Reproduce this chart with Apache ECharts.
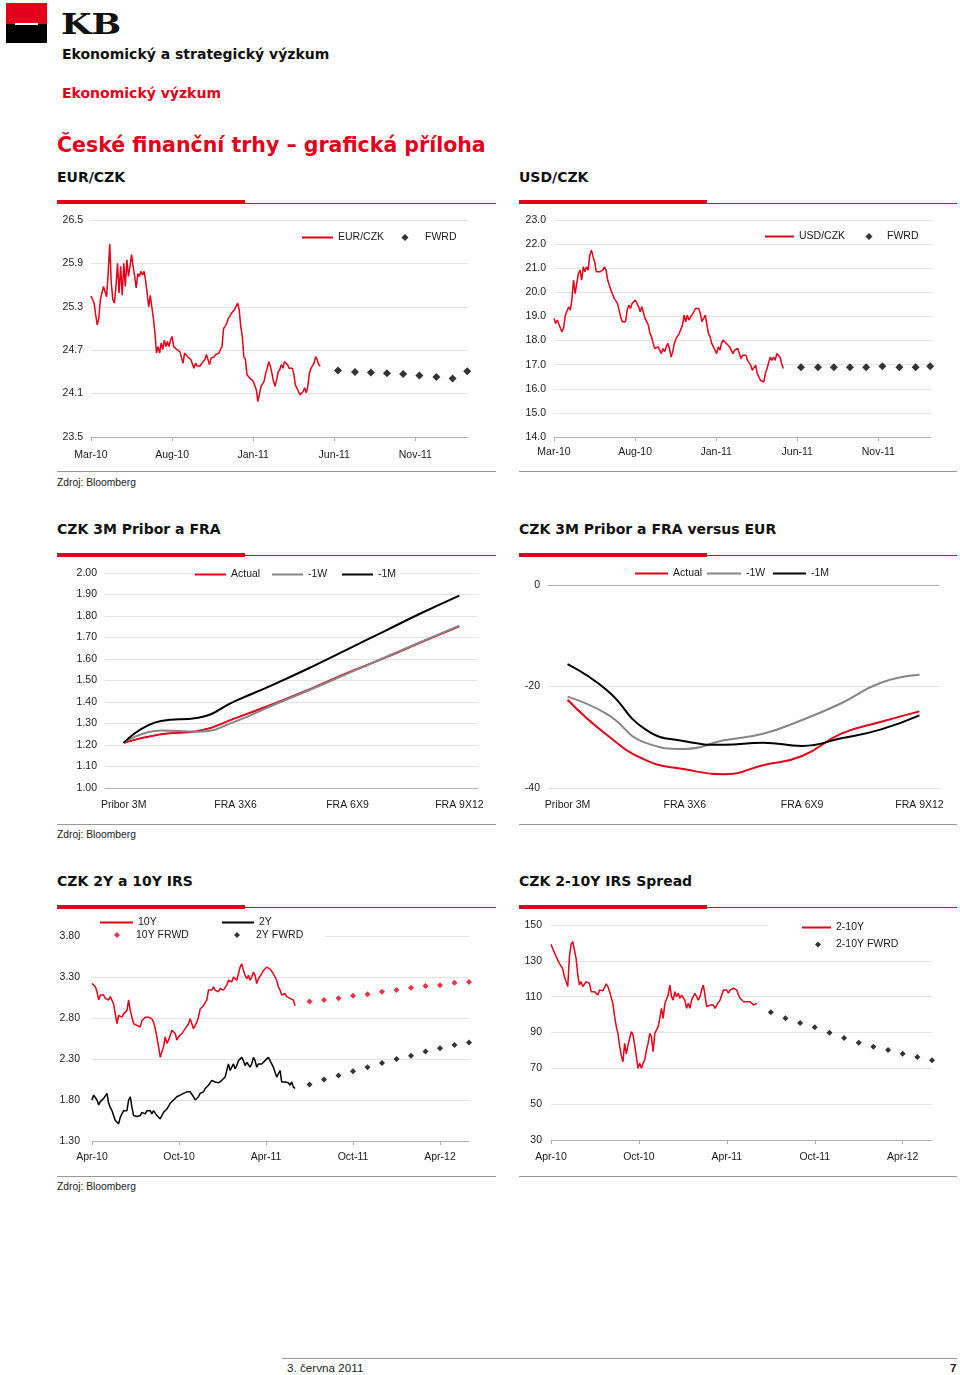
<!DOCTYPE html>
<html><head><meta charset="utf-8">
<script src="https://cdn.jsdelivr.net/npm/echarts@6/dist/echarts.min.js"></script>
<style>
html,body{margin:0;padding:0;background:#fff;}
#page{position:relative;width:960px;height:1375px;overflow:hidden;font-family:"Liberation Sans",Arial,sans-serif;}
.t{position:absolute;white-space:nowrap;line-height:1;}
.b{font-family:"DejaVu Sans",sans-serif;font-weight:bold;}
.r{position:absolute;}
#chart{position:absolute;left:0;top:0;width:960px;height:1375px;}
</style></head><body>
<div id="page">
  <div class="r" style="left:6px;top:3px;width:41px;height:21px;background:#e2001a"></div>
  <div class="r" style="left:6px;top:24px;width:41px;height:19px;background:#000"></div>
  <div class="r" style="left:15px;top:23px;width:23px;height:2px;background:#fff"></div>
  <div class="t" style="left:61px;top:10.5px;font-family:'DejaVu Serif',serif;font-weight:bold;font-size:27px;color:#111;transform:scaleX(1.3);transform-origin:left top;">KB</div>
  <div class="t b" style="left:62px;top:47.2px;font-size:14px;color:#111;">Ekonomický a strategický výzkum</div>
  <div class="t b" style="left:62px;top:85.5px;font-size:14px;color:#e2001a;">Ekonomický výzkum</div>
  <div class="t b" style="left:57px;top:134.7px;font-size:20.5px;color:#e2001a;">České finanční trhy – grafická příloha</div>

  <div class="t b" style="left:57px;top:170px;font-size:14px;color:#111;">EUR/CZK</div>
  <div class="t b" style="left:519px;top:170px;font-size:14px;color:#111;">USD/CZK</div>
  <div class="r" style="left:57px;top:200px;width:188px;height:4px;background:#e2001a"></div>
  <div class="r" style="left:245px;top:203px;width:251px;height:1px;background:#e2001a"></div>
  <div class="r" style="left:519px;top:200px;width:188px;height:4px;background:#e2001a"></div>
  <div class="r" style="left:707px;top:203px;width:250px;height:1px;background:#e2001a"></div>
  <div class="r" style="left:57px;top:471px;width:439px;height:1px;background:#999"></div>
  <div class="r" style="left:519px;top:471px;width:438px;height:1px;background:#999"></div>
  <div class="t" style="left:57px;top:477.5px;font-size:10.3px;color:#222;">Zdroj: Bloomberg</div>

  <div class="t b" style="left:57px;top:522px;font-size:14px;color:#111;">CZK 3M Pribor a FRA</div>
  <div class="t b" style="left:519px;top:522px;font-size:14px;color:#111;">CZK 3M Pribor a FRA versus EUR</div>
  <div class="r" style="left:57px;top:553px;width:188px;height:4px;background:#e2001a"></div>
  <div class="r" style="left:245px;top:555px;width:251px;height:1px;background:#e2001a"></div>
  <div class="r" style="left:519px;top:553px;width:188px;height:4px;background:#e2001a"></div>
  <div class="r" style="left:707px;top:555px;width:250px;height:1px;background:#e2001a"></div>
  <div class="r" style="left:57px;top:824px;width:439px;height:1px;background:#999"></div>
  <div class="r" style="left:519px;top:824px;width:438px;height:1px;background:#999"></div>
  <div class="t" style="left:57px;top:830px;font-size:10.3px;color:#222;">Zdroj: Bloomberg</div>

  <div class="t b" style="left:57px;top:874px;font-size:14px;color:#111;">CZK 2Y a 10Y IRS</div>
  <div class="t b" style="left:519px;top:874px;font-size:14px;color:#111;">CZK 2-10Y IRS Spread</div>
  <div class="r" style="left:57px;top:905px;width:188px;height:4px;background:#e2001a"></div>
  <div class="r" style="left:245px;top:907px;width:251px;height:1px;background:#e2001a"></div>
  <div class="r" style="left:519px;top:905px;width:188px;height:4px;background:#e2001a"></div>
  <div class="r" style="left:707px;top:907px;width:250px;height:1px;background:#e2001a"></div>
  <div class="r" style="left:57px;top:1176px;width:439px;height:1px;background:#999"></div>
  <div class="r" style="left:519px;top:1176px;width:438px;height:1px;background:#999"></div>
  <div class="t" style="left:57px;top:1181.5px;font-size:10.3px;color:#222;">Zdroj: Bloomberg</div>

  <div class="r" style="left:282px;top:1358px;width:675px;height:1px;background:#999"></div>
  <div class="t" style="left:287px;top:1362px;font-size:11.7px;color:#222;">3. června 2011</div>
  <div class="t" style="left:950px;top:1362px;font-size:11.7px;font-weight:bold;color:#222;">7</div>

  <div id="chart"></div>
</div>
<script>
// ---------- DATA ----------
// x positions are months counted from the first axis label (Mar-10 / Apr-10)
const eurczkTickMonths = [0, 5, 10, 15, 20];
const eurczkTickLabels = ['Mar-10', 'Aug-10', 'Jan-11', 'Jun-11', 'Nov-11'];
const eurczkYTicks = [23.5, 24.1, 24.7, 25.3, 25.9, 26.5];
const eurczkSpotFrom = 0, eurczkSpotTo = 14.14;
const eurczkSpot = [25.45, 25.40, 25.35, 25.19, 25.05, 25.14, 25.40, 25.42, 25.58, 25.56,
  25.44, 25.76, 26.17, 25.63, 25.40, 25.35, 25.58, 25.90, 25.49, 25.86, 25.46, 25.90, 25.58, 25.95,
  25.72, 25.86, 26.02, 25.86, 25.72, 25.56, 25.76, 25.72, 25.79, 25.74, 25.79, 25.67, 25.49, 25.30,
  25.46, 25.30, 25.14, 24.94, 24.66, 24.75, 24.66, 24.80, 24.71, 24.84, 24.75, 24.82, 24.75, 24.84,
  24.89, 24.75, 24.73, 24.71, 24.71, 24.68, 24.66, 24.52, 24.66, 24.64, 24.61, 24.59, 24.57, 24.57,
  24.45, 24.52, 24.48, 24.50, 24.48, 24.52, 24.50, 24.57, 24.64, 24.57, 24.50, 24.59, 24.57, 24.61,
  24.64, 24.66, 24.66, 24.71, 24.75, 25.00, 25.03, 25.07, 25.14, 25.17, 25.21, 25.23, 25.26, 25.28,
  25.35, 25.26, 25.03, 24.89, 24.61, 24.57, 24.36, 24.34, 24.31, 24.29, 24.27, 24.29, 24.15, 23.99,
  24.01, 24.20, 24.22, 24.27, 24.38, 24.45, 24.54, 24.48, 24.38, 24.27, 24.20, 24.29, 24.40, 24.43,
  24.50, 24.45, 24.54, 24.52, 24.50, 24.45, 24.43, 24.45, 24.38, 24.22, 24.20, 24.13, 24.08, 24.06,
  24.13, 24.18, 24.11, 24.20, 24.38, 24.45, 24.43, 24.52, 24.61, 24.57, 24.50, 24.48];
const eurczkFwdMonths = [15.23, 16.28, 17.26, 18.25, 19.25, 20.25, 21.3, 22.3, 23.2];
const eurczkFwd = [24.42, 24.40, 24.39, 24.38, 24.37, 24.35, 24.33, 24.31, 24.41];

const usdczkYTicks = [14, 15, 16, 17, 18, 19, 20, 21, 22, 23];
const usdczkSpotFrom = 0, usdczkSpotTo = 14.14;
const usdczkSpot = [18.92, 18.71, 18.85, 18.78, 18.50, 18.36, 18.57, 19.05, 18.98, 19.40, 19.26,
  19.68, 20.51, 19.95, 20.37, 20.78, 20.92, 20.51, 21.06, 20.85, 21.06, 20.92, 21.55, 21.75, 21.48,
  21.27, 20.85, 20.81, 20.85, 20.78, 20.92, 21.06, 20.92, 20.51, 20.30, 20.09, 20.02, 19.75, 19.68,
  19.54, 19.26, 18.98, 18.78, 18.71, 18.78, 19.26, 19.47, 19.33, 19.54, 19.47, 19.68, 19.54, 19.40,
  19.19, 19.40, 19.33, 18.92, 18.85, 18.64, 18.29, 18.15, 17.88, 17.67, 17.60, 17.74, 17.60, 17.46,
  17.67, 17.53, 17.74, 17.88, 17.67, 17.32, 17.53, 17.88, 18.08, 18.15, 18.29, 18.22, 18.64, 19.05,
  18.78, 19.05, 18.85, 18.98, 19.05, 19.19, 19.33, 19.33, 19.33, 19.12, 18.78, 18.71, 19.05, 18.98,
  18.29, 18.15, 17.88, 17.74, 17.67, 17.46, 17.74, 17.60, 17.88, 18.02, 18.02, 17.88, 17.95, 17.74,
  17.60, 17.46, 17.60, 17.53, 17.67, 17.46, 17.25, 17.39, 17.46, 17.39, 17.18, 17.12, 16.98, 16.77,
  16.84, 16.98, 16.63, 16.49, 16.35, 16.28, 16.28, 16.63, 16.84, 16.91, 17.32, 17.18, 17.32, 17.18,
  17.46, 17.39, 17.32, 17.05, 16.84];
const usdczkFwdMonths = [15.23, 16.28, 17.26, 18.25, 19.25, 20.25, 21.3, 22.3, 23.2];
const usdczkFwd = [16.89, 16.89, 16.89, 16.89, 16.89, 16.93, 16.89, 16.89, 16.93];

const fraCategories = ['Pribor 3M', 'FRA 1X4', 'FRA 2X5', 'FRA 3X6', 'FRA 4X7', 'FRA 5X8',
  'FRA 6X9', 'FRA 7X10', 'FRA 8X11', 'FRA 9X12'];
const priborYTicks = [1.0, 1.1, 1.2, 1.3, 1.4, 1.5, 1.6, 1.7, 1.8, 1.9, 2.0];
const priborActual = [1.21, 1.25, 1.265, 1.325, 1.39, 1.46, 1.535, 1.605, 1.68, 1.752];
const priborWeek = [1.21, 1.268, 1.262, 1.31, 1.385, 1.457, 1.532, 1.607, 1.682, 1.755];
const priborMonth = [1.21, 1.312, 1.327, 1.405, 1.48, 1.56, 1.645, 1.73, 1.815, 1.895];

const vsEurYTicks = [-40, -20, 0];
const vsEurActual = [-22.6, -29.5, -34.5, -36.3, -37.3, -35.5, -33.7, -29.3, -27.0, -24.9];
const vsEurWeek = [-22.0, -25.4, -31.1, -32.3, -30.6, -29.3, -26.6, -23.3, -19.3, -17.7];
const vsEurMonth = [-15.6, -20.7, -28.5, -30.8, -31.5, -31.1, -31.7, -30.2, -28.5, -25.7];

const irsTickMonths = [0, 6, 12, 18, 24];
const irsTickLabels = ['Apr-10', 'Oct-10', 'Apr-11', 'Oct-11', 'Apr-12'];
const irsYTicks = [1.3, 1.8, 2.3, 2.8, 3.3, 3.8];
const irsFrom = 0, irsTo = 14.0;
const irs10Y = [3.22, 3.24, 3.18, 3.12, 3.02, 3.08, 3.06, 3.08, 3.04, 3.06, 3.02, 3.06, 3.04, 2.97,
  2.85, 2.73, 2.83, 2.85, 2.81, 2.85, 2.83, 2.89, 3.02, 2.89, 2.81, 2.73, 2.75, 2.71, 2.73, 2.69,
  2.77, 2.79, 2.81, 2.83, 2.81, 2.83, 2.79, 2.75, 2.67, 2.57, 2.45, 2.32, 2.39, 2.45, 2.57, 2.49,
  2.53, 2.59, 2.65, 2.67, 2.61, 2.53, 2.57, 2.59, 2.61, 2.63, 2.67, 2.69, 2.73, 2.79, 2.73, 2.67,
  2.69, 2.75, 2.81, 2.91, 2.89, 2.95, 2.97, 3.02, 3.14, 3.16, 3.14, 3.18, 3.14, 3.12, 3.12, 3.16,
  3.14, 3.14, 3.12, 3.20, 3.26, 3.26, 3.24, 3.30, 3.32, 3.26, 3.34, 3.42, 3.46, 3.38, 3.32, 3.28,
  3.32, 3.26, 3.30, 3.36, 3.32, 3.22, 3.28, 3.30, 3.34, 3.38, 3.40, 3.42, 3.44, 3.40, 3.38, 3.34,
  3.30, 3.26, 3.18, 3.14, 3.08, 3.08, 3.10, 3.06, 3.06, 3.04, 3.06, 3.02, 2.95];
const irs2Y = [1.80, 1.86, 1.86, 1.80, 1.74, 1.78, 1.80, 1.82, 1.80, 1.88, 1.76, 1.71, 1.67, 1.61,
  1.55, 1.53, 1.51, 1.59, 1.63, 1.67, 1.69, 1.67, 1.80, 1.84, 1.71, 1.61, 1.63, 1.60, 1.59, 1.61,
  1.65, 1.67, 1.63, 1.67, 1.65, 1.67, 1.63, 1.67, 1.65, 1.61, 1.59, 1.57, 1.61, 1.65, 1.63, 1.69,
  1.71, 1.76, 1.78, 1.80, 1.82, 1.84, 1.84, 1.86, 1.88, 1.88, 1.89, 1.90, 1.90, 1.90, 1.88, 1.84,
  1.80, 1.82, 1.84, 1.88, 1.88, 1.90, 1.94, 1.96, 1.98, 1.98, 2.04, 2.06, 2.02, 2.02, 2.01, 2.02,
  2.04, 2.02, 2.08, 2.16, 2.24, 2.16, 2.20, 2.24, 2.18, 2.22, 2.28, 2.30, 2.32, 2.28, 2.22, 2.26,
  2.24, 2.20, 2.24, 2.32, 2.28, 2.20, 2.24, 2.26, 2.24, 2.26, 2.28, 2.30, 2.32, 2.28, 2.24, 2.20,
  2.14, 2.08, 2.12, 2.16, 2.02, 2.00, 2.02, 2.00, 2.01, 1.98, 2.02, 1.96, 1.94];
const irsFwdMonths = [15, 16, 17, 18, 19, 20, 21, 22, 23, 24, 25, 26];
const irs10YFwd = [3.00, 3.02, 3.04, 3.07, 3.09, 3.12, 3.14, 3.17, 3.19, 3.20, 3.23, 3.24];
const irs2YFwd = [1.99, 2.05, 2.10, 2.15, 2.20, 2.25, 2.30, 2.34, 2.39, 2.43, 2.47, 2.50];

const spreadYTicks = [30, 50, 70, 90, 110, 130, 150];
const spreadFrom = 0, spreadTo = 14.05;
const spread2s10s = [139.2, 138.8, 134.6, 134.2, 130.5, 128.6, 127.7, 125.5, 121.2, 118.4, 115.6,
  132.3, 139.3, 140.7, 136.0, 131.4, 122.1, 116.5, 118.4, 115.6, 114.7, 118.4, 119.3, 117.4, 112.8,
  113.7, 112.8, 111.9, 110.9, 113.7, 114.1, 113.3, 115.2, 117.1, 115.6, 112.8, 111.9, 106.0, 98.8,
  93.3, 89.5, 82.5, 77.0, 73.7, 84.0, 78.0, 83.0, 84.0, 90.5, 88.5, 83.0, 76.5, 70.0, 72.8, 70.0,
  72.8, 74.7, 80.2, 84.0, 89.5, 87.7, 79.3, 89.5, 88.6, 93.3, 97.9, 103.5, 97.9, 106.0, 108.6, 111.0,
  116.5, 110.0, 108.1, 112.8, 110.0, 111.9, 109.1, 110.9, 110.0, 108.1, 103.5, 106.3, 103.5, 108.1,
  110.0, 111.9, 112.8, 108.1, 110.0, 113.7, 116.5, 110.9, 104.4, 103.5, 105.3, 104.4, 105.3, 103.5,
  105.3, 104.4, 108.1, 110.9, 113.7, 112.8, 113.7, 111.9, 113.7, 112.8, 114.7, 113.7, 113.7, 110.9,
  109.1, 108.1, 107.2, 108.1, 107.2, 106.3, 107.2, 106.3, 105.3, 104.4, 106.3];
const spreadFwd = [101.3, 97.9, 95.3, 92.9, 89.9, 86.9, 84.3, 82.1, 80.2, 78.2, 76.3, 74.5];

// ---------- CHART ----------
const FONT = "'Liberation Sans', Arial, sans-serif";
const RED = '#e2001a', GRAY = '#868686', BLACK = '#000000';
const LBL = '#1a1a1a', GRIDC = '#e3e3e3', AXISC = '#b0b0b0';
const labelBase = { color: LBL, fontSize: 10.5, fontFamily: FONT };

function alongMonths(values, from, to) {
  const n = values.length;
  return values.map((v, i) => [from + (to - from) * i / (n - 1), v]);
}
function pairs(xs, ys) { return xs.map((x, i) => [x, ys[i]]); }

function timeAxis(gi, max, ticks, labels, margin) {
  return {
    type: 'value', gridIndex: gi, min: 0, max: max,
    axisLine: { onZero: false, lineStyle: { color: AXISC } },
    axisTick: { customValues: ticks, length: 4, lineStyle: { color: AXISC } },
    axisLabel: Object.assign({}, labelBase, { customValues: ticks, margin: margin,
      formatter: v => { const i = ticks.indexOf(Math.round(v * 100) / 100); return i >= 0 ? labels[i] : ''; } }),
    splitLine: { show: false }
  };
}
function valAxis(gi, ticks, decimals, margin) {
  return {
    type: 'value', gridIndex: gi, min: ticks[0], max: ticks[ticks.length - 1],
    axisLine: { show: false }, axisTick: { show: false, customValues: ticks },
    axisLabel: Object.assign({}, labelBase, { customValues: ticks, margin: margin,
      formatter: v => v.toFixed(decimals) }),
    splitLine: { lineStyle: { color: GRIDC, width: 1 } }
  };
}
function legLine(name, x, cy, w) {
  return { data: [name], left: x, top: cy - 6, icon: 'rect', itemWidth: w, itemHeight: 2, padding: 0, z: 10,
    selectedMode: false, textStyle: Object.assign({}, labelBase) };
}
function legDot(name, cx, cy, size, textX) {
  return { data: [name], left: cx - size / 2, top: cy - 6, itemWidth: size, itemHeight: size, padding: 0, z: 10,
    selectedMode: false, textStyle: Object.assign({}, labelBase, { padding: [0, 0, 0, textX - (cx + size / 2) - 5] }) };
}
function lineSeries(name, xi, yi, data, color, width, smooth) {
  return { name: name, type: 'line', xAxisIndex: xi, yAxisIndex: yi, data: data, symbol: 'none',
    smooth: smooth ? 0.5 : false, lineStyle: { color: color, width: width }, itemStyle: { color: color }, z: 3 };
}
function dotSeries(name, xi, yi, data, color, size) {
  return { name: name, type: 'scatter', xAxisIndex: xi, yAxisIndex: yi, data: data, symbol: 'diamond',
    symbolSize: size, itemStyle: { color: color }, z: 4 };
}

const chart = echarts.init(document.getElementById('chart'), null, { renderer: 'canvas' });
chart.setOption({
  animation: false,
  backgroundColor: 'transparent',
  textStyle: { fontFamily: FONT },
  grid: [
    { left: 91, top: 220, width: 377, height: 217 },
    { left: 554, top: 220, width: 377, height: 217 },
    { left: 105, top: 573, width: 373, height: 215 },
    { left: 548, top: 585, width: 391, height: 203 },
    { left: 92, top: 936, width: 377, height: 205 },
    { left: 551, top: 925, width: 381, height: 215 }
  ],
  xAxis: [
    timeAxis(0, 23.25, eurczkTickMonths, eurczkTickLabels, 12.5),
    timeAxis(1, 23.25, eurczkTickMonths, eurczkTickLabels, 10),
    { type: 'category', gridIndex: 2, data: fraCategories, boundaryGap: true,
      axisLine: { onZero: false, lineStyle: { color: AXISC } },
      axisTick: { interval: 0, length: 4, lineStyle: { color: AXISC } },
      axisLabel: Object.assign({}, labelBase, { interval: 2, margin: 12 }), splitLine: { show: false } },
    { type: 'category', gridIndex: 3, data: fraCategories, boundaryGap: true, position: 'top',
      axisLine: { onZero: false, lineStyle: { color: AXISC } },
      axisTick: { interval: 0, inside: true, length: 4, lineStyle: { color: AXISC } },
      axisLabel: { show: false }, splitLine: { show: false } },
    { type: 'category', gridIndex: 3, data: fraCategories, boundaryGap: true, position: 'bottom',
      axisLine: { show: false, onZero: false }, axisTick: { show: false },
      axisLabel: Object.assign({}, labelBase, { interval: 2, margin: 12 }), splitLine: { show: false } },
    timeAxis(4, 26, irsTickMonths, irsTickLabels, 11),
    timeAxis(5, 26, irsTickMonths, irsTickLabels, 12)
  ],
  yAxis: [
    valAxis(0, eurczkYTicks, 1, 8),
    valAxis(1, usdczkYTicks, 1, 8),
    valAxis(2, priborYTicks, 2, 8),
    valAxis(3, vsEurYTicks, 0, 8),
    valAxis(4, irsYTicks, 2, 12),
    valAxis(5, spreadYTicks, 0, 9)
  ],
  legend: [
    legLine('EUR/CZK', 302, 238, 31),
    legDot('FWRD', 405, 238, 7, 425),
    legLine('USD/CZK', 765, 237, 29),
    legDot('FWRD', 869, 237, 7, 887),
    legLine('Actual', 195, 575, 31),
    legLine('-1W', 272, 575, 31),
    legLine('-1M', 342, 575, 31),
    legLine('Actual', 635, 574, 33),
    legLine('-1W', 707, 574, 34),
    legLine('-1M', 773, 574, 33),
    legLine('10Y', 100, 923, 33),
    legLine('2Y', 222, 923, 32),
    legDot('10Y FRWD', 117, 935.5, 6, 136),
    legDot('2Y FWRD', 237, 935.5, 6, 256),
    legLine('2-10Y', 802, 928, 29),
    legDot('2-10Y FWRD', 818, 945, 6, 836)
  ],
  graphic: { elements: [
    { type: 'rect', z: 5, shape: { x: 195, y: 569, width: 204, height: 8 }, style: { fill: '#fff' } },
    { type: 'rect', z: 5, shape: { x: 92, y: 931, width: 233, height: 9 }, style: { fill: '#fff' } },
    { type: 'rect', z: 5, shape: { x: 768, y: 921, width: 165, height: 8 }, style: { fill: '#fff' } }
  ] },
  series: [
    lineSeries('EUR/CZK', 0, 0, alongMonths(eurczkSpot, eurczkSpotFrom, eurczkSpotTo), RED, 1.5),
    dotSeries('FWRD', 0, 0, pairs(eurczkFwdMonths, eurczkFwd), BLACK, 8),
    lineSeries('USD/CZK', 1, 1, alongMonths(usdczkSpot, usdczkSpotFrom, usdczkSpotTo), RED, 1.5),
    dotSeries('FWRD', 1, 1, pairs(usdczkFwdMonths, usdczkFwd), BLACK, 8),
    lineSeries('Actual', 2, 2, priborActual, RED, 2, true),
    lineSeries('-1W', 2, 2, priborWeek, GRAY, 2, true),
    lineSeries('-1M', 2, 2, priborMonth, BLACK, 2, true),
    lineSeries('Actual', 3, 3, vsEurActual, RED, 2, true),
    lineSeries('-1W', 3, 3, vsEurWeek, GRAY, 2, true),
    lineSeries('-1M', 3, 3, vsEurMonth, BLACK, 2, true),
    lineSeries('10Y', 5, 4, alongMonths(irs10Y, irsFrom, irsTo), RED, 1.5),
    lineSeries('2Y', 5, 4, alongMonths(irs2Y, irsFrom, irsTo), BLACK, 1.5),
    dotSeries('10Y FRWD', 5, 4, pairs(irsFwdMonths, irs10YFwd), RED, 6),
    dotSeries('2Y FWRD', 5, 4, pairs(irsFwdMonths, irs2YFwd), BLACK, 6),
    lineSeries('2-10Y', 6, 5, alongMonths(spread2s10s, spreadFrom, spreadTo), RED, 1.5),
    dotSeries('2-10Y FWRD', 6, 5, pairs(irsFwdMonths, spreadFwd), BLACK, 6)
  ]
});
</script>
</body></html>
